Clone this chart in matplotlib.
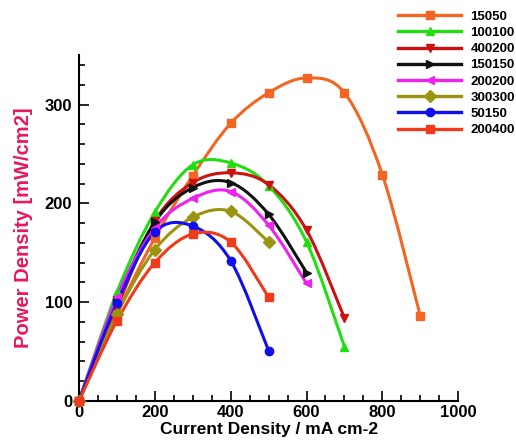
import numpy as np
import matplotlib
matplotlib.use("Agg")
import matplotlib.pyplot as plt
from matplotlib.path import Path
from matplotlib.patches import PathPatch
from matplotlib.lines import Line2D
from matplotlib.ticker import MultipleLocator

plt.rcParams['font.family'] = ['Liberation Sans', 'DejaVu Sans']
plt.rcParams['font.weight'] = 'bold'

# current density, mA cm-2
x_long = [0, 100, 200, 300, 400, 500, 600, 700, 800, 900]
x_700 = [0, 100, 200, 300, 400, 500, 600, 700]
x_600 = [0, 100, 200, 300, 400, 500, 600]
x_500 = [0, 100, 200, 300, 400, 500]

# power density, mW/cm2
p_15050 = [0, 88, 165, 228, 281, 312, 327, 312, 229, 86]
p_100100 = [0, 110, 191, 239, 241, 218, 161, 55]
p_400200 = [0, 94, 182, 221, 231, 219, 173, 84]
p_150150 = [0, 102, 181, 216, 221, 189, 130]
p_200200 = [0, 105, 175, 205, 212, 178, 119]
p_300300 = [0, 88, 153, 186, 192, 161]
p_50150 = [0, 99, 171, 177, 142, 51]
p_200400 = [0, 81, 140, 169, 161, 105]

labels = ['15050', '100100', '400200', '150150', '200200', '300300', '50150', '200400']
xs = [x_long, x_700, x_700, x_600, x_600, x_500, x_500, x_500]
ys = [p_15050, p_100100, p_400200, p_150150, p_200200, p_300300, p_50150, p_200400]
colors = ['#f26522', '#22dd11', '#cc1111', '#111111', '#ee22ee', '#9a9410', '#1010ee', '#f03a1a']
markers = ['s', '^', 'v', '>', '<', 'D', 'o', 's']


def smooth_path(x, y):
    # Catmull-Rom spline drawn as cubic bezier segments
    x = np.asarray(x, float)
    y = np.asarray(y, float)
    pts = np.column_stack([x, y])
    verts = [pts[0]]
    codes = [Path.MOVETO]
    n = len(pts)
    for i in range(n - 1):
        p0 = pts[i - 1] if i > 0 else pts[i]
        p1 = pts[i]
        p2 = pts[i + 1]
        p3 = pts[i + 2] if i + 2 < n else pts[i + 1]
        c1 = p1 + (p2 - p0) / 6.0
        c2 = p2 - (p3 - p1) / 6.0
        verts += [c1, c2, p2]
        codes += [Path.CURVE4] * 3
    return Path(verts, codes)


fig = plt.figure(figsize=(5.16, 4.42), dpi=100)
ax = fig.add_axes([0.153, 0.093, 0.735, 0.782])

handles = []
for x, y, c, m, lab in zip(xs, ys, colors, markers, labels):
    ax.add_patch(PathPatch(smooth_path(x, y), facecolor='none', edgecolor=c, lw=2.2, zorder=2))
    ax.plot(x, y, linestyle='none', marker=m, color=c, markersize=6, zorder=3, clip_on=False)
    handles.append(Line2D([], [], color=c, lw=2.4, marker=m, markersize=6, label=lab))

ax.set_xlim(0, 1000)
ax.set_ylim(0, 350)
ax.xaxis.set_major_locator(MultipleLocator(200))
ax.xaxis.set_minor_locator(MultipleLocator(50))
ax.yaxis.set_major_locator(MultipleLocator(100))
ax.yaxis.set_minor_locator(MultipleLocator(20))
ax.tick_params(which='both', direction='in', width=1.2, labelsize=12)
ax.tick_params(which='major', length=7)
ax.tick_params(which='minor', length=4)
ax.spines['top'].set_visible(False)
ax.spines['right'].set_visible(False)
ax.spines['left'].set_linewidth(1.5)
ax.spines['bottom'].set_linewidth(1.5)
ax.tick_params(axis='x', pad=3)
ax.tick_params(axis='y', pad=5)

ax.set_xlabel('Current Density / mA cm-2', fontsize=12.5, fontweight='bold', labelpad=1.5)
ax.set_ylabel('Power Density [mW/cm2]', fontsize=14.5, fontweight='bold', color='#e8185e', labelpad=8)

fig.legend(handles=handles, loc='upper left', bbox_to_anchor=(0.748, 1.003), frameon=False,
           handlelength=4.8, labelspacing=0.3, handletextpad=0.7,
           prop={'weight': 'bold', 'size': 9.5})

fig.savefig('out.png', dpi=100)
